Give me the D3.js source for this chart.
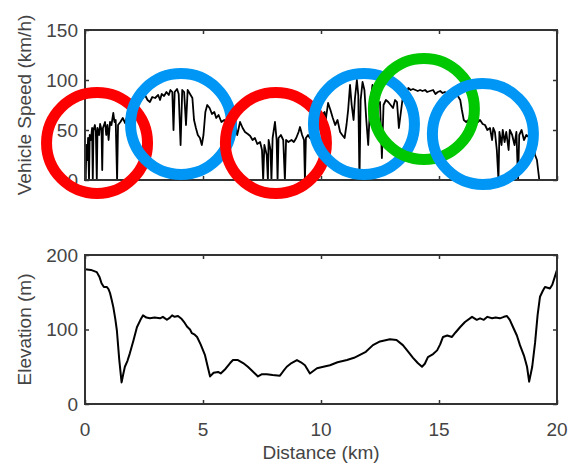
<!DOCTYPE html>
<html>
<head>
<meta charset="utf-8">
<script src="https://cdn.jsdelivr.net/npm/d3@7"></script>
<style>
body { margin: 0; background: #fff; }
text { font-family: "Liberation Sans", Arial, sans-serif; }
</style>
</head>
<body>
<script>
// speed trace (distance in km, speed in km/h)
const speedKm = [0.00,0.03,0.06,0.10,0.13,0.17,0.20,0.25,0.30,0.33,0.36,0.42,0.46,0.50,0.53,0.60,0.64,0.70,0.73,0.76,
  0.85,0.90,0.95,1.00,1.06,1.12,1.20,1.25,1.30,1.36,1.40,1.50,1.60,1.70,1.80,1.90,2.00,2.10,2.20,2.33,
  2.45,2.54,2.65,2.75,2.85,2.97,3.10,3.18,3.25,3.35,3.45,3.55,3.62,3.70,3.75,3.80,3.90,3.97,4.05,4.12,
  4.20,4.28,4.35,4.45,4.55,4.62,4.70,4.78,4.87,4.95,5.02,5.10,5.18,5.28,5.38,5.48,5.56,5.66,5.78,5.90,
  6.02,6.14,6.25,6.36,6.45,6.57,6.68,6.78,6.90,7.00,7.10,7.20,7.30,7.42,7.50,7.55,7.60,7.70,7.75,7.78,
  7.86,7.90,7.95,8.05,8.12,8.16,8.20,8.30,8.40,8.47,8.52,8.62,8.75,8.85,8.95,9.05,9.11,9.20,9.28,9.32,
  9.36,9.45,9.53,9.65,9.75,9.86,9.96,10.05,10.15,10.20,10.30,10.40,10.50,10.60,10.70,10.81,10.90,11.00,11.08,11.15,
  11.23,11.30,11.38,11.44,11.52,11.58,11.63,11.68,11.76,11.84,11.92,12.00,12.08,12.18,12.26,12.40,12.50,12.58,12.65,12.75,
  12.85,12.95,13.05,13.14,13.22,13.30,13.45,13.60,13.70,13.80,13.90,14.00,14.10,14.20,14.30,14.41,14.50,14.62,14.75,14.85,
  14.95,15.05,15.15,15.25,15.40,15.50,15.60,15.70,15.80,15.90,15.97,16.05,16.15,16.25,16.40,16.53,16.65,16.74,16.85,16.95,
  17.05,17.16,17.25,17.30,17.37,17.45,17.52,17.56,17.65,17.70,17.78,17.85,17.95,18.00,18.10,18.20,18.28,18.35,18.40,18.50,
  18.60,18.70,18.80,18.90,19.00,19.07,19.15,19.20,19.25];
const speedVal = [30,0,35,20,42,0,45,40,52,0,50,55,48,0,52,45,56,50,10,52,
  58,45,55,40,58,55,67,58,60,0,55,58,62,57,65,70,78,82,80,84,
  82,85,80,78,83,82,85,80,86,84,88,85,90,88,50,88,91,86,35,90,
  88,55,90,86,82,60,52,45,42,35,45,68,75,72,66,68,62,65,58,60,
  55,57,53,55,45,58,52,48,46,44,40,42,36,38,30,0,35,25,0,40,
  30,0,42,58,40,0,42,45,40,0,40,38,40,38,42,48,53,45,40,0,
  42,45,42,45,50,55,63,65,68,60,77,70,62,55,60,48,45,42,55,70,
  95,75,60,82,100,85,0,80,98,90,60,35,75,95,78,75,78,22,75,80,
  78,75,72,80,78,52,80,85,92,90,91,90,89,90,89,90,88,89,90,86,
  88,89,87,88,86,88,85,86,84,80,70,60,58,60,57,60,58,60,56,55,
  50,52,40,52,48,30,0,48,35,50,38,48,30,50,45,35,48,0,45,50,
  40,45,43,45,35,25,20,10,0];

// elevation profile (distance in km, elevation in m)
const elevKm = [0.00,0.25,0.50,0.62,0.70,0.80,0.93,1.00,1.06,1.13,1.20,1.28,1.35,1.45,1.55,1.62,1.69,1.80,1.90,2.05,
  2.20,2.35,2.46,2.60,2.75,2.95,3.18,3.30,3.47,3.60,3.69,3.80,3.94,4.10,4.20,4.32,4.45,4.53,4.65,4.75,
  4.90,5.08,5.20,5.30,5.45,5.64,5.75,5.95,6.15,6.27,6.48,6.70,6.90,7.10,7.33,7.50,7.70,7.95,8.26,8.40,
  8.55,8.75,8.98,9.15,9.32,9.53,9.70,9.83,10.10,10.38,10.70,11.10,11.40,11.65,11.90,12.20,12.50,12.92,13.20,13.47,
  13.70,13.90,14.10,14.28,14.40,14.53,14.75,14.92,15.05,15.17,15.35,15.55,15.70,15.89,16.10,16.40,16.60,16.74,16.90,17.05,
  17.25,17.40,17.58,17.75,17.88,18.00,18.14,18.30,18.43,18.60,18.73,18.82,18.95,19.07,19.18,19.28,19.40,19.49,19.60,19.70,
  19.80,19.90,20.00];
const elevVal = [181,180,177,170,162,157,157,154,149,140,130,115,99,60,29,40,50,58,68,85,
  103,113,119,116,115,116,115,117,113,116,119,117,118,114,110,104,100,95,93,90,
  80,66,50,37,42,43,41,47,55,59,59,55,50,44,37,40,40,39,38,44,
  50,55,59,56,52,41,45,48,50,52,56,59,62,66,70,79,84,87,86,79,
  70,62,55,50,54,63,67,72,80,90,92,90,96,103,110,117,113,115,113,117,
  115,116,115,117,118,113,103,92,79,65,50,30,50,82,120,144,152,157,156,155,
  160,170,180];

// highlight rings on the speed plot
const ringKm = [0.51, 4.07, 8.09, 11.82, 14.36, 16.86];
const ringSpeed = [37, 56, 37, 56, 71, 46];
const ringKind = ["slow", "fast", "slow", "fast", "steady", "fast"];
const ringColor = { slow: "#ff0000", fast: "#0096f5", steady: "#00c800" };

const distTicks = [0, 5, 10, 15, 20];
const speedTicks = [0, 50, 100, 150];
const elevTicks = [0, 100, 200];

const W = 569, H = 465;
const left = 85, right = 557;
const grey = "#444";
const fs = 19;

const svg = d3.select("body").append("svg")
  .attr("width", W).attr("height", H);

const x = d3.scaleLinear().domain([0, 20]).range([left, right]);

function panel(top, bottom, yMax, yTicks, label) {
  const y = d3.scaleLinear().domain([0, yMax]).range([bottom, top]);
  const g = svg.append("g");

  // inward ticks on all four sides
  const axes = [
    [d3.axisBottom(x).tickValues(distTicks), bottom, 0],
    [d3.axisTop(x).tickValues(distTicks), top, 0],
    [d3.axisLeft(y).tickValues(yTicks), 0, left],
    [d3.axisRight(y).tickValues(yTicks), 0, right]
  ];
  axes.forEach(([ax, ty, tx]) => {
    const a = g.append("g")
      .attr("transform", "translate(" + tx + "," + ty + ")")
      .call(ax.tickSizeInner(-4).tickSizeOuter(0).tickFormat(""));
    a.select(".domain").remove();
    a.selectAll("line").attr("stroke", "#333").attr("stroke-width", 1.5);
  });

  // y tick labels
  g.selectAll(".ylab").data(yTicks).join("text")
    .attr("x", left - 7)
    .attr("y", d => y(d))
    .attr("dy", "0.36em")
    .attr("text-anchor", "end")
    .attr("font-size", fs)
    .attr("fill", grey)
    .text(d => d);

  g.append("text")
    .attr("transform", "translate(31," + ((top + bottom) / 2) + ") rotate(-90)")
    .attr("text-anchor", "middle")
    .attr("font-size", fs)
    .attr("fill", grey)
    .text(label);

  return { g, y };
}

// speed panel
const p1 = panel(30, 180, 150, speedTicks, "Vehicle Speed (km/h)");
const speedLine = d3.line().x(i => x(speedKm[i])).y(i => p1.y(speedVal[i]));
p1.g.append("path")
  .attr("d", speedLine(d3.range(speedKm.length)))
  .attr("fill", "none").attr("stroke", "#000")
  .attr("stroke-width", 1.8).attr("stroke-linejoin", "round");
p1.g.append("rect")
  .attr("x", left).attr("y", 30).attr("width", right - left).attr("height", 150)
  .attr("fill", "none").attr("stroke", "#333").attr("stroke-width", 2);

// elevation panel
const p2 = panel(255, 404, 200, elevTicks, "Elevation (m)");
const elevLine = d3.line().x(i => x(elevKm[i])).y(i => p2.y(elevVal[i]));
p2.g.append("path")
  .attr("d", elevLine(d3.range(elevKm.length)))
  .attr("fill", "none").attr("stroke", "#000")
  .attr("stroke-width", 2).attr("stroke-linejoin", "round");
p2.g.append("rect")
  .attr("x", left).attr("y", 255).attr("width", right - left).attr("height", 149)
  .attr("fill", "none").attr("stroke", "#333").attr("stroke-width", 2);

// x tick labels and title
svg.selectAll(".xlab").data(distTicks).join("text")
  .attr("x", d => x(d))
  .attr("y", 436)
  .attr("text-anchor", "middle")
  .attr("font-size", fs)
  .attr("fill", grey)
  .text(d => d);
svg.append("text")
  .attr("x", (left + right) / 2)
  .attr("y", 459)
  .attr("text-anchor", "middle")
  .attr("font-size", fs)
  .attr("fill", grey)
  .text("Distance (km)");

// rings drawn last, on top of everything
svg.append("g").selectAll("circle")
  .data(d3.range(ringKm.length))
  .join("circle")
  .attr("cx", i => x(ringKm[i]))
  .attr("cy", i => p1.y(ringSpeed[i]))
  .attr("r", 50.5)
  .attr("fill", "none")
  .attr("stroke", i => ringColor[ringKind[i]])
  .attr("stroke-width", 11);
</script>
</body>
</html>
